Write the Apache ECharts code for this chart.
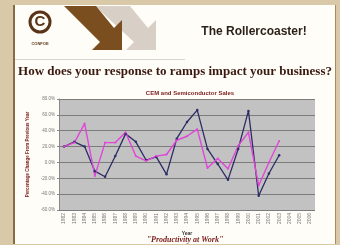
<!DOCTYPE html>
<html>
<head>
<meta charset="utf-8">
<script src="https://cdn.jsdelivr.net/npm/echarts@6/dist/echarts.min.js"></script>
<style>
  html, body { margin: 0; padding: 0; background: #dac9a8; }
  #chart { width: 340px; height: 245px; }
</style>
</head>
<body>
<div id="chart"></div>
<script>
// years on the category axis (data stops at 2003)
const years = ['1982','1983','1984','1985','1986','1987','1988','1989','1990','1991','1992','1993',
  '1994','1995','1996','1997','1998','1999','2000','2001','2002','2003','2004','2005','2006']
// percent change from previous year
const cemSales = [20, 26, 20, -11, -18, 8, 36, 26, 3, 7, -15, 30, 51, 66, 17, -2, -22, 17, 65, -42, -14, 9]
const semiSales = [20, 25, 49, -17, 25, 25, 38, 8, 2, 8, 10, 28, 33, 42, -7, 5, -8, 21, 38, -29, 0, 27]
const yTicks = { min: -60, max: 80, step: 20 }

const chart = echarts.init(document.getElementById('chart'))

const darkRed = '#7a1a1a'

chart.setOption({
  backgroundColor: '#dac9a8',
  animation: false,
  title: {
    text: 'CEM and Semiconductor Sales',
    left: 185, top: 85, textAlign: 'center',
    textStyle: { fontSize: 6, fontWeight: 'bold', color: darkRed, fontFamily: 'Liberation Sans' }
  },
  graphic: [
    // the white slide
    { type: 'rect', shape: { x: 14, y: 5, width: 322, height: 239 }, style: { fill: '#fffdf8' }, z: -10 },
    { type: 'rect', shape: { x: 13, y: 5, width: 2, height: 239 }, style: { fill: '#8a6a44' }, z: -9 },
    { type: 'rect', shape: { x: 335, y: 5, width: 1, height: 239 }, style: { fill: '#a88a60' }, z: -9 },
    // header decorations
    { type: 'polygon', shape: { points: [[95, 6], [130, 6], [148, 28], [156, 20], [156, 50], [126, 50], [134, 42]] },
      style: { fill: '#d8d0c6' }, z: -5 },
    { type: 'polygon', shape: { points: [[64, 6], [96, 6], [114, 28], [122, 20], [122, 50], [92, 50], [100, 42]] },
      style: { fill: '#7a4e1e' }, z: -4 },
    { type: 'rect', shape: { x: 15, y: 59, width: 170, height: 1 }, style: { fill: '#d8d6d2' } },
    { type: 'circle', shape: { cx: 40, cy: 22, r: 10 }, style: { fill: 'none', stroke: '#5a3418', lineWidth: 3 } },
    { type: 'text', style: { text: 'C', x: 40, y: 22, align: 'center', verticalAlign: 'middle',
      font: 'bold 15px "Liberation Sans"', fill: '#5a3418' } },
    { type: 'text', style: { text: 'CONFOE', x: 40, y: 44, align: 'center', verticalAlign: 'middle',
      font: 'bold 4px "Liberation Sans"', fill: '#5a3418' } },
    { type: 'text', style: { text: 'The Rollercoaster!', x: 254, y: 32, align: 'center', verticalAlign: 'middle',
      font: 'bold 12px "Liberation Sans"', fill: '#2a1e18' } },
    { type: 'text', style: { text: 'How does your response to ramps impact your business?', x: 175, y: 72,
      align: 'center', verticalAlign: 'middle', font: 'bold 13px "Liberation Serif"', fill: '#3a1a10' } },
    { type: 'text', style: { text: '"Productivity at Work"', x: 185, y: 240, align: 'center', verticalAlign: 'middle',
      font: 'italic bold 8px "Liberation Serif"', fill: darkRed } }
  ],
  grid: { left: 59, right: 25, top: 99, bottom: 35, show: true, backgroundColor: '#c2c2c2', borderWidth: 0 },
  xAxis: {
    type: 'category',
    data: years,
    boundaryGap: true,
    name: 'Year',
    nameLocation: 'middle',
    nameGap: 21,
    nameTextStyle: { fontSize: 5, fontWeight: 'bold', color: '#333' },
    axisLine: { show: false },
    axisTick: { show: false },
    axisLabel: { rotate: 90, fontSize: 5, color: '#777', interval: 0, margin: 3 }
  },
  yAxis: {
    type: 'value',
    min: yTicks.min, max: yTicks.max, interval: yTicks.step,
    name: 'Percentage Change From Previous Year',
    nameLocation: 'middle',
    nameGap: 23,
    nameTextStyle: { fontSize: 4.5, fontWeight: 'bold', color: darkRed },
    axisLine: { show: true, lineStyle: { color: '#888', width: 1 } },
    axisTick: { show: true, length: 2, lineStyle: { color: '#888' } },
    axisLabel: { fontSize: 4.5, color: '#777', margin: 4, formatter: v => v.toFixed(1) + '%' },
    splitLine: { show: true, lineStyle: { color: '#7c7c7c', width: 1 } }
  },
  series: [
    {
      name: 'CEM',
      type: 'line',
      data: cemSales,
      symbol: 'circle', symbolSize: 2.5,
      lineStyle: { color: '#2c2c66', width: 1.3 },
      itemStyle: { color: '#2c2c66' }
    },
    {
      name: 'Semiconductor',
      type: 'line',
      data: semiSales,
      symbol: 'circle', symbolSize: 2,
      lineStyle: { color: '#e046d8', width: 1.4 },
      itemStyle: { color: '#e046d8' }
    }
  ]
})
</script>
</body>
</html>
